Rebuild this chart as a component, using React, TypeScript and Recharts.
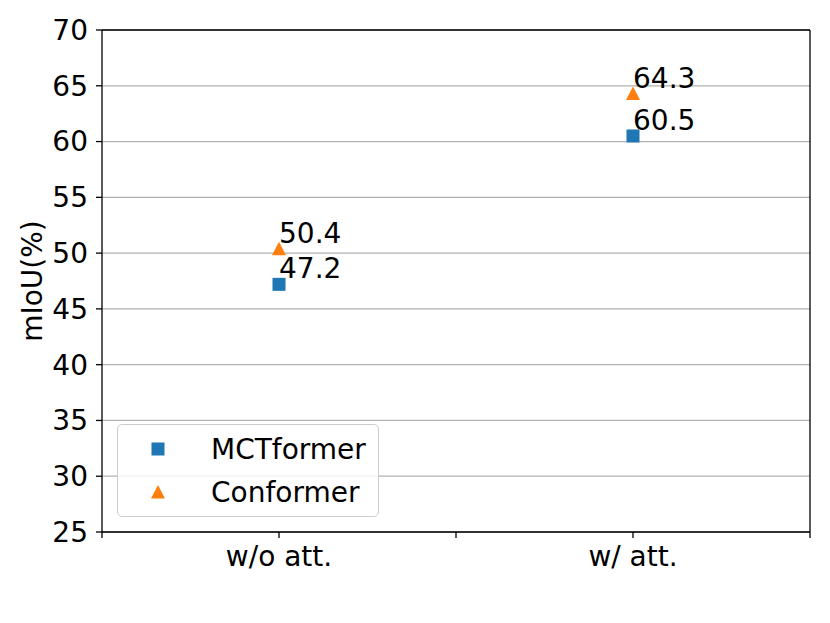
import {
  ScatterChart,
  Scatter,
  XAxis,
  YAxis,
  CartesianGrid,
  ReferenceLine,
  Legend,
} from "recharts";

const categories = ["w/o att.", "w/ att."];
const mctformer = [47.2, 60.5];
const conformer = [50.4, 64.3];
const yTicks = [25, 30, 35, 40, 45, 50, 55, 60, 65, 70];
const xTicks = [0, 1, 2, 3, 4];

const BLUE = "#1f77b4";
const ORANGE = "#ff7f0e";
const FONT = "DejaVu Sans";
const FS = 28;

// categories sit at 1 and 3 on a 0..4 axis, like the original figure
const mctData = categories.map((c, i) => ({ x: 1 + 2 * i, y: mctformer[i], name: c }));
const confData = categories.map((c, i) => ({ x: 1 + 2 * i, y: conformer[i], name: c }));

const tickLabel = (v: number) => {
  const idx = (v - 1) / 2;
  return Number.isInteger(idx) && categories[idx] ? categories[idx] : "";
};

const SquarePoint = (props: any) => {
  const { cx, cy, payload } = props;
  return (
    <g>
      <rect x={cx - 6.5} y={cy - 6.5} width={13} height={13} fill={BLUE} />
      <text x={cx} y={cy - 6} fontSize={FS} fontFamily={FONT} fill="#000">
        {payload.y}
      </text>
    </g>
  );
};

const TrianglePoint = (props: any) => {
  const { cx, cy, payload } = props;
  return (
    <g>
      <polygon
        points={`${cx},${cy - 7} ${cx - 7},${cy + 6.5} ${cx + 7},${cy + 6.5}`}
        fill={ORANGE}
      />
      <text x={cx} y={cy - 6} fontSize={FS} fontFamily={FONT} fill="#000">
        {payload.y}
      </text>
    </g>
  );
};

const LegendBox = () => (
  <div
    style={{
      boxSizing: "border-box",
      width: 262,
      height: 93,
      border: "1.3px solid #cccccc",
      borderRadius: 5,
      background: "rgba(255,255,255,0.8)",
      position: "relative",
    }}
  >
    <svg width={262} height={93} style={{ position: "absolute", left: 0, top: 0 }}>
      <rect x={40 - 6.5} y={24 - 6.5} width={13} height={13} fill={BLUE} />
      <polygon points={`40,${67 - 7} 33,${67 + 6.5} 47,${67 + 6.5}`} fill={ORANGE} />
      <text x={93} y={24} dominantBaseline="central" fontSize={FS} fontFamily={FONT} fill="#000">
        MCTformer
      </text>
      <text x={93} y={67} dominantBaseline="central" fontSize={FS} fontFamily={FONT} fill="#000">
        Conformer
      </text>
    </svg>
  </div>
);

const YTitle = (props: any) => {
  const vb = props.viewBox || { x: 0, y: 30, width: 102, height: 502 };
  const cx = vb.x + 32;
  const cy = vb.y + vb.height / 2;
  return (
    <text
      x={cx}
      y={cy}
      transform={`rotate(-90, ${cx}, ${cy})`}
      textAnchor="middle"
      dominantBaseline="central"
      fontSize={FS}
      fontFamily={FONT}
      fill="#000"
    >
      mIoU(%)
    </text>
  );
};

export default function App() {
  return (
    <div style={{ position: "absolute", left: 0, top: 0, width: 830, height: 623, background: "#fff" }}>
      <ScatterChart width={830} height={623} margin={{ top: 30, right: 20, bottom: 0, left: 0 }}>
        <CartesianGrid vertical={false} stroke="#b0b0b0" strokeWidth={1.3} />
        <XAxis
          type="number"
          dataKey="x"
          domain={[0, 4]}
          ticks={xTicks}
          tickFormatter={tickLabel}
          height={91}
          tickSize={6}
          tickMargin={8}
          axisLine={{ stroke: "#000", strokeWidth: 1.3 }}
          tickLine={{ stroke: "#000", strokeWidth: 1.3 }}
          tick={{ fontSize: FS, fontFamily: FONT, fill: "#000" }}
          interval={0}
        />
        <YAxis
          type="number"
          dataKey="y"
          domain={[25, 70]}
          ticks={yTicks}
          width={102}
          tickSize={6}
          tickMargin={8}
          axisLine={{ stroke: "#000", strokeWidth: 1.3 }}
          tickLine={{ stroke: "#000", strokeWidth: 1.3 }}
          tick={{ fontSize: FS, fontFamily: FONT, fill: "#000" }}
          interval={0}
          label={{ position: "insideLeft", content: YTitle }}
        />
        <ReferenceLine y={70} stroke="#000" strokeWidth={1.3} />
        <ReferenceLine x={4} stroke="#000" strokeWidth={1.3} />
        <Legend
          layout="vertical"
          align="center"
          verticalAlign="middle"
          wrapperStyle={{ left: 117, top: 424, width: 262, height: 93 }}
          content={() => <LegendBox />}
        />
        <Scatter
          name="MCTformer"
          data={mctData}
          fill={BLUE}
          shape={SquarePoint}
          isAnimationActive={false}
        />
        <Scatter
          name="Conformer"
          data={confData}
          fill={ORANGE}
          shape={TrianglePoint}
          isAnimationActive={false}
        />
      </ScatterChart>
    </div>
  );
}
